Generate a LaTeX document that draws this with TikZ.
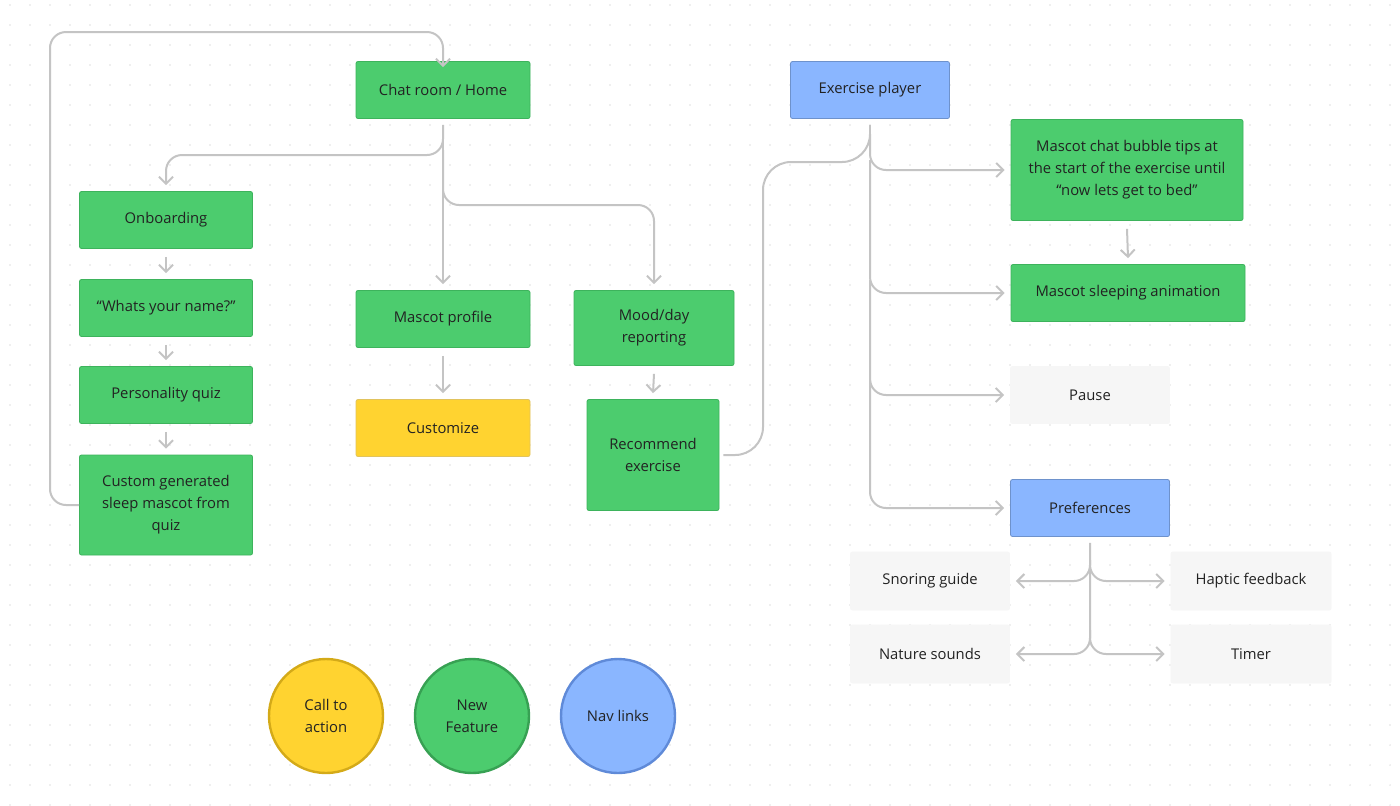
\documentclass[tikz,border=0pt]{standalone}
\usepackage{fontspec}
\setmainfont{Open Sans}
\usetikzlibrary{arrows.meta}
\definecolor{gr}{HTML}{4CCC6E}
\definecolor{grb}{HTML}{3DB35C}
\definecolor{ye}{HTML}{FFD330}
\definecolor{yeb}{HTML}{D4AA18}
\definecolor{bl}{HTML}{8AB6FF}
\definecolor{blb}{HTML}{5F8AD8}
\definecolor{lg}{HTML}{F6F6F6}
\definecolor{ln}{HTML}{C4C4C4}
\definecolor{tx}{HTML}{222222}
\begin{document}
\begin{tikzpicture}[x=0.5pt,y=-0.5pt,
 box/.style={draw=#1,line width=0.4pt,rounded corners=1pt,align=center,text=tx,font=\fontsize{7.4}{11}\selectfont,inner sep=0pt},
 g/.style={box=grb,fill=gr},
 b/.style={box=bl!80!black,fill=bl},
 p/.style={box=lg,fill=lg},
 c/.style={g,circle,minimum size=57pt,line width=1.2pt},
 con/.style={draw=ln,line width=1pt,rounded corners=8pt},
 ar/.style={con,-{Straight Barb[length=3.5pt,width=7pt]}},
 sz/.style 2 args={minimum width=#1*0.5pt,minimum height=#2*0.5pt}]
\useasboundingbox[fill=white] (0,0) rectangle (1400,805);
\foreach \i in {0,...,69}{\foreach \j in {0,...,40}{\fill[black!12] (\i*20+10,\j*20+5) circle (0.4pt);}}
\node[g,sz={174}{57}] (home) at (443,90) {Chat room / Home};
\node[g,sz={173}{57}] (onb) at (166,220) {Onboarding};
\node[g,sz={173}{57}] (name) at (166,308) {“Whats your name?”};
\node[g,sz={173}{57}] (quiz) at (166,395) {Personality quiz};
\node[g,sz={173}{100}] (cust) at (166,505) {Custom generated\\sleep mascot from\\quiz};
\node[g,sz={174}{57}] (prof) at (443,319) {Mascot profile};
\node[box=yeb!70,fill=ye,sz={174}{57}] (cz) at (443,428) {Customize};
\node[g,sz={160}{75}] (mood) at (654,328) {Mood/day\\reporting};
\node[g,sz={132}{111}] (rec) at (653,455) {Recommend\\exercise};
\node[b,sz={159}{57}] (pl) at (870,90) {Exercise player};
\node[g,sz={232}{101}] (bub) at (1127,170) {Mascot chat bubble tips at\\the start of the exercise until\\“now lets get to bed”};
\node[g,sz={234}{57}] (slp) at (1128,293) {Mascot sleeping animation};
\node[p,sz={159}{57}] (pau) at (1090,395) {Pause};
\node[b,sz={159}{57}] (pref) at (1090,508) {Preferences};
\node[p,sz={159}{58}] (sn) at (930,581) {Snoring guide};
\node[p,sz={160}{58}] (hap) at (1251,581) {Haptic feedback};
\node[p,sz={159}{58}] (nat) at (930,654) {Nature sounds};
\node[p,sz={160}{58}] (tim) at (1251,654) {Timer};
\node[c,fill=ye,draw=yeb] (c1) at (326,716) {Call to\\action};
\node[c,fill=gr,draw=grb!90!black] (c2) at (472,716) {New\\Feature};
\node[c,fill=bl,draw=blb] (c3) at (618,716) {Nav links};
% connectors
\draw[ar] (cust.west) -- (50,505) -- (50,32) -- (443,32) -- ([yshift=-3pt]home.north);
\draw[ar] ([yshift=-3pt]home.south) -- (443,155) -- (166,155) -- ([yshift=3pt]onb.north);
\draw[ar] ([yshift=-3pt]home.south) -- ([yshift=3pt]prof.north);
\draw[ar] (443,150) -- (443,205) -- (654,205) -- ([yshift=3pt]mood.north);
\draw[ar] ([yshift=-4pt]onb.south) -- ([yshift=3pt]name.north);
\draw[ar] ([yshift=-4pt]name.south) -- ([yshift=3pt]quiz.north);
\draw[ar] ([yshift=-4pt]quiz.south) -- ([yshift=3pt]cust.north);
\draw[ar] ([yshift=-4pt]prof.south) -- ([yshift=3pt]cz.north);
\draw[ar] ([yshift=-4pt]mood.south) -- ([yshift=3pt]rec.north);
\draw[con,rounded corners=14pt] ([xshift=2pt]rec.east) -- (763,455) -- (763,162) -- (870,162) -- (870,150);
\draw[con] ([yshift=-3pt]pl.south) -- (870,150);
\draw[ar] (870,150) -- (870,170) -- ([xshift=-3pt]bub.west);
\draw[ar] (870,160) -- (870,293) -- ([xshift=-3pt]slp.west);
\draw[ar] (870,280) -- (870,395) -- ([xshift=-3pt]pau.west);
\draw[ar] (870,380) -- (870,508) -- ([xshift=-3pt]pref.west);
\draw[ar] ([yshift=-4pt]bub.south) -- ([yshift=3pt]slp.north);
\draw[ar] ([yshift=-3pt]pref.south) -- (1090,581) -- ([xshift=3pt]sn.east);
\draw[ar] (1090,560) -- (1090,581) -- ([xshift=-3pt]hap.west);
\draw[ar] (1090,570) -- (1090,654) -- ([xshift=3pt]nat.east);
\draw[ar] (1090,630) -- (1090,654) -- ([xshift=-3pt]tim.west);
\end{tikzpicture}
\end{document}
